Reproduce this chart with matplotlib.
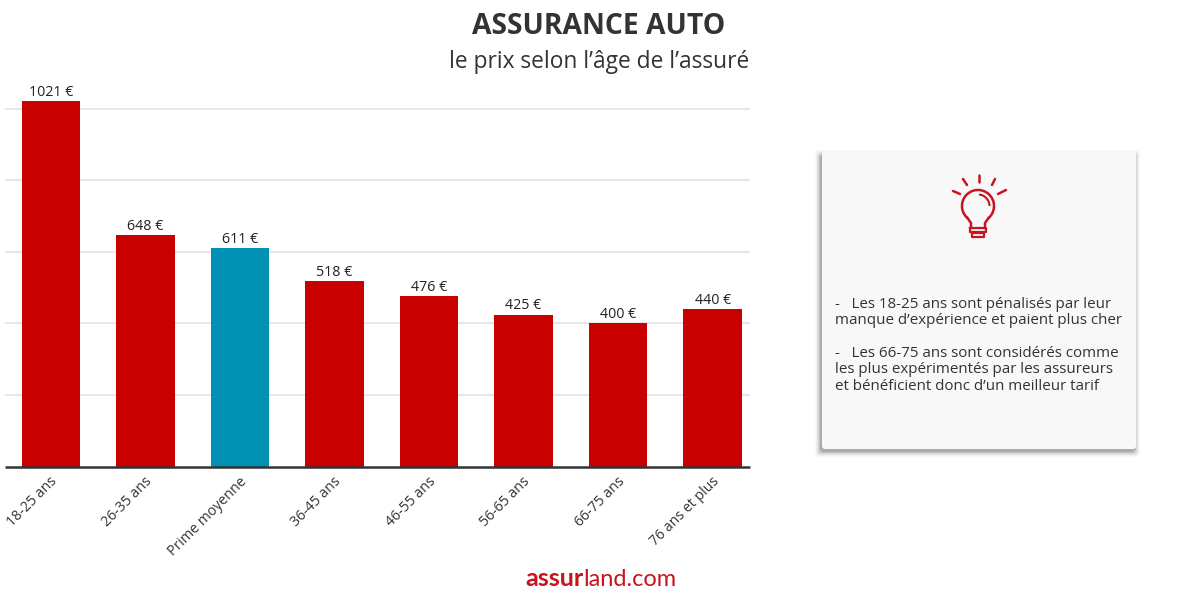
import numpy as np
import matplotlib
matplotlib.use('Agg')
import matplotlib.pyplot as plt
from matplotlib.patches import FancyBboxPatch, Arc
from matplotlib.transforms import ScaledTranslation

plt.rcParams['font.family'] = ['Open Sans', 'DejaVu Sans']

categories = ['18-25 ans', '26-35 ans', 'Prime moyenne', '36-45 ans',
              '46-55 ans', '56-65 ans', '66-75 ans', '76 ans et plus']
prices = [1021, 648, 611, 518, 476, 425, 400, 440]
bar_colors = ['#c80000', '#c80000', '#0090b4', '#c80000',
              '#c80000', '#c80000', '#c80000', '#c80000']
grid_values = [200, 400, 600, 800, 1000]
tips = ['-   Les 18-25 ans sont pénalisés par leur',
        'manque d’expérience et paient plus cher',
        '',
        '-   Les 66-75 ans sont considérés comme',
        'les plus expérimentés par les assureurs',
        'et bénéficient donc d’un meilleur tarif']

TEXT = '#333333'
ICON = '#c8141e'

fig = plt.figure(figsize=(12, 5.98), dpi=100)

# pixel layer for the card, icon, titles and logo
bg = fig.add_axes([0, 0, 1, 1])
bg.set_xlim(0, 1200)
bg.set_ylim(598, 0)
bg.axis('off')

# soft shadow, then the card
for grow, alpha in [(5, 0.03), (4, 0.05), (3, 0.06), (2, 0.09), (1, 0.13), (0, 0.18)]:
    bg.add_patch(FancyBboxPatch((820 - grow, 155 - grow), 315 + 2 * grow, 297 + 2 * grow,
                                boxstyle='round,pad=0,rounding_size=4', fc='#444444',
                                ec='none', alpha=alpha))
bg.add_patch(FancyBboxPatch((822, 151), 314, 298, boxstyle='round,pad=0,rounding_size=3',
                            fc='#f8f8f9', ec='none'))

# light bulb icon
rays = [((979, 175), (979, 182)), ((963, 179), (967, 185)), ((995, 179), (992, 185)),
        ((953, 191), (960, 194)), ((1006, 190), (998, 194))]
for a, b in rays:
    bg.plot([a[0], b[0]], [a[1], b[1]], color=ICON, lw=1.8, solid_capstyle='round')
bg.add_patch(Arc((978, 206), 32, 32, theta1=130, theta2=50, color=ICON, lw=1.8))
bg.add_patch(Arc((978, 206), 23, 23, theta1=-85, theta2=0, color=ICON, lw=1.5))
bg.plot([967.5, 971, 971], [218, 223, 228], color=ICON, lw=1.8)
bg.plot([988.5, 985, 985], [218, 223, 228], color=ICON, lw=1.8)
bg.plot([970, 986, 986, 970, 970], [228, 228, 232, 232, 228], color=ICON, lw=1.6)
bg.plot([972, 984, 984, 972, 972], [233, 233, 237, 237, 233], color=ICON, lw=1.6)

for i, line in enumerate(tips):
    bg.text(835, 304 + i * 16.4, line, fontsize=10.9, color=TEXT, fontweight='medium',
            va='center', ha='left')

bg.text(599, 27, 'ASSURANCE AUTO', fontsize=20.3, fontweight='bold', color=TEXT,
        ha='center', va='center')
bg.text(599, 61.5, 'le prix selon l’âge de l’assuré', fontsize=16.4, color=TEXT,
        ha='center', va='center')

bg.text(525, 579, 'assur', fontsize=18, fontweight='bold', color=ICON, family='Lato',
        ha='left', va='center')
bg.text(583, 579, 'land.com', fontsize=17, fontweight='normal', color=ICON, family='Lato',
        ha='left', va='center')

# bar chart
ax = fig.add_axes([5 / 1200, 131.5 / 598, 745 / 1200, 386.5 / 598])
ax.patch.set_alpha(0)
x = np.arange(len(categories))
ax.set_axisbelow(True)
ax.yaxis.grid(True, color='#e0e0e0', lw=1.1)
bars = ax.bar(x, prices, width=0.62, color=bar_colors)
for rect, val in zip(bars, prices):
    ax.annotate(f'{val} €', (rect.get_x() + rect.get_width() / 2, val), xytext=(0, 0.8),
                textcoords='offset points', ha='center', va='bottom', fontsize=10.3, color='#222222')

ax.set_xlim(-0.486, 7.395)
ax.set_ylim(0, 1081)
ax.set_yticks(grid_values)
ax.set_xticks(x)
ax.set_xticklabels(categories, rotation=45, ha='right', rotation_mode='anchor',
                   fontsize=10.2, color=TEXT)
ax.tick_params(length=0, labelleft=False, pad=5.5)
shift = ScaledTranslation(-1 / 100, 0, fig.dpi_scale_trans)
for lab in ax.get_xticklabels():
    lab.set_transform(lab.get_transform() + shift)
for s in ['top', 'right', 'left']:
    ax.spines[s].set_visible(False)
ax.spines['bottom'].set_color('#333333')
ax.spines['bottom'].set_linewidth(1.8)
ax.spines['bottom'].set_capstyle('butt')

fig.savefig('out.png', dpi=100)
